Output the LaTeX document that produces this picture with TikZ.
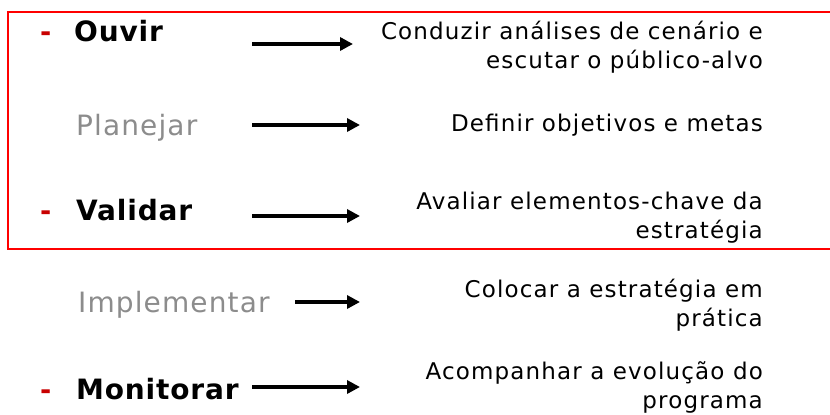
\documentclass[tikz,border=0pt]{standalone}
\usepackage{fontspec}
\setmainfont{DejaVu Sans}[LetterSpace=5]
\usetikzlibrary{arrows.meta}
\definecolor{framered}{RGB}{255,0,0}
\definecolor{dashred}{RGB}{200,0,0}
\definecolor{softgray}{RGB}{140,140,140}

\begin{document}
\begin{tikzpicture}[x=1pt, y=-1pt,
    stage/.style={anchor=base west, inner sep=0pt, font=\fontsize{28}{32}\selectfont\bfseries\addfontfeature{LetterSpace=3}},
    faded/.style={anchor=base west, inner sep=0pt, text=softgray, font=\fontsize{28}{32}\selectfont\addfontfeature{LetterSpace=4}},
    bullet/.style={anchor=base west, inner sep=0pt, text=dashred, font=\fontsize{27}{32}\selectfont\bfseries},
    descr/.style={anchor=base east, inner sep=0pt, align=right, font=\fontsize{23}{29}\selectfont},
    flow/.style={line width=4.5pt, -{Triangle[length=13pt,width=13pt]}}]
          \useasboundingbox (0,0) rectangle (830,415);

          \draw[framered, line width=2pt] (834,12) -- (8,12) -- (8,249) -- (834,249);

          \node[bullet] (d1) at (40,41) {-};
          \node[stage] (ouvir) at (74,41) {Ouvir};
          \node[faded] (planejar) at (76,135) {Planejar};
          \node[bullet] (d2) at (40,220) {-};
          \node[stage] (validar) at (76,220) {Validar};
          \node[faded] (implementar) at (78,312) {Implementar};
          \node[bullet] (d3) at (40,399) {-};
          \node[stage] (monitorar) at (76,399) {Monitorar};

          \node[descr] (t1) at (763,68) {Conduzir análises de cenário e\\escutar o público-alvo};
          \node[descr] (t2) at (763,131) {Definir objetivos e metas};
          \node[descr] (t3) at (763,238) {Avaliar elementos-chave da\\estratégia};
          \node[descr] (t4) at (763,326) {Colocar a estratégia em\\prática};
          \node[descr] (t5) at (763,408) {Acompanhar a evolução do\\programa};

          \coordinate (a1) at (252,44);
          \coordinate (b1) at (353,44);
          \coordinate (a2) at (252,125);
          \coordinate (b2) at (360,125);
          \coordinate (a3) at (252,216);
          \coordinate (b3) at (360,216);
          \coordinate (a4) at (295,302);
          \coordinate (b4) at (360,302);
          \coordinate (a5) at (252,387);
          \coordinate (b5) at (360,387);

          \draw[flow] (a1) -- (b1);
          \draw[flow] (a2) -- (b2);
          \draw[flow] (a3) -- (b3);
          \draw[flow] (a4) -- (b4);
          \draw[flow] (a5) -- (b5);
\end{tikzpicture}
\end{document}
